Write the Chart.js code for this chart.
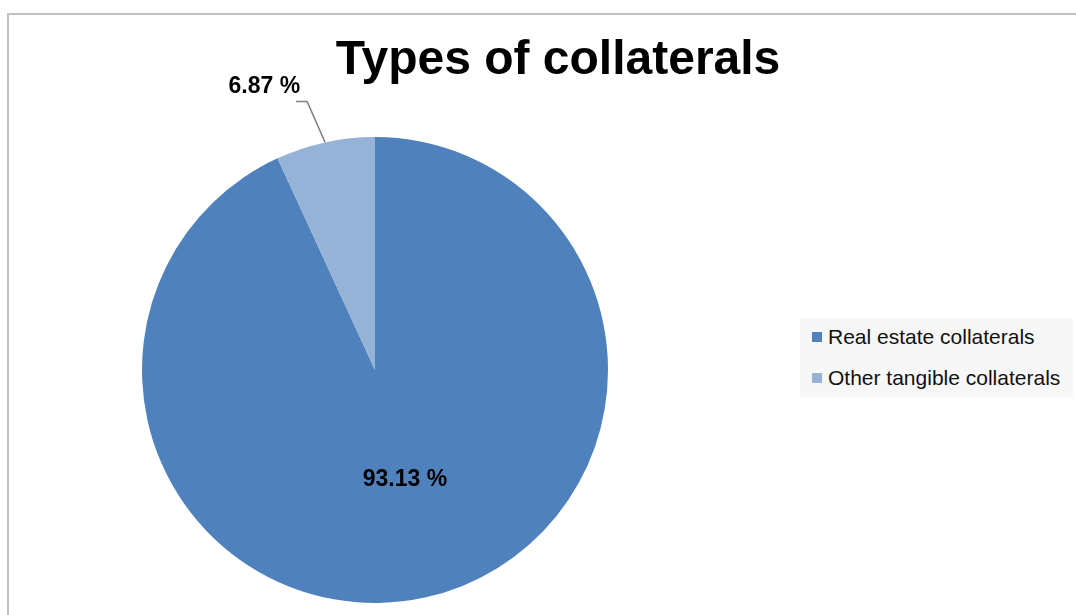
<!DOCTYPE html>
<html>
<head>
<meta charset="utf-8">
<script src="https://cdn.jsdelivr.net/npm/chart.js@4"></script>
<style>
  body { margin: 0; background: #fff; font-family: "Liberation Sans", Arial, sans-serif; }
  #wrap { position: relative; width: 1076px; height: 615px; overflow: hidden; }
  #frame { position: absolute; left: 7px; top: 13px; width: 1080px; height: 620px; border: 2px solid #c0c0c0; box-sizing: border-box; }
  #title { position: absolute; left: 0; width: 1116px; top: 30px; text-align: center; font-weight: bold; font-size: 48px; color: #000; }
  #legend { position: absolute; left: 800px; top: 318px; width: 273px; height: 79px; background: #f7f7f7; }
  .item { position: absolute; left: 12px; font-size: 21px; color: #111; white-space: nowrap; }
  .box { display: inline-block; width: 10px; height: 10px; margin-right: 6px; vertical-align: 2px; }
  canvas { position: absolute; left: 0; top: 0; }
</style>
</head>
<body>
<div id="wrap">
  <div id="frame"></div>
  <canvas id="pie" width="1076" height="615"></canvas>
  <div id="title">Types of collaterals</div>
  <div id="legend"></div>
</div>
<script>
const categorias = ['Real estate collaterals', 'Other tangible collaterals'];
const porcentajes = [93.13, 6.87];
const colores = ['#4F81BD', '#95B3D7'];

// leyenda a la derecha
const leyenda = document.getElementById('legend');
categorias.forEach(function(nombre, i) {
    const item = document.createElement('div');
    item.className = 'item';
    item.style.top = (7 + i * 41) + 'px';
    item.innerHTML = '<span class="box" style="background:' + colores[i] + '"></span>' + nombre;
    leyenda.appendChild(item);
});

// etiquetas de porcentaje; la pequeña va fuera con línea guía
const etiquetas = {
    id: 'etiquetas',
    afterDatasetsDraw(chart) {
        const ctx = chart.ctx;
        const arcos = chart.getDatasetMeta(0).data;
        ctx.save();
        ctx.font = 'bold 23px "Liberation Sans", Arial, sans-serif';
        ctx.fillStyle = '#000';
        ctx.textBaseline = 'middle';

        const p = arcos[0].tooltipPosition();
        ctx.textAlign = 'center';
        ctx.fillText(porcentajes[0].toFixed(2) + ' %', p.x + 5, p.y - 4);

        const a = arcos[1];
        const medio = (a.startAngle + a.endAngle) / 2;
        const bx = a.x + Math.cos(medio) * a.outerRadius;
        const by = a.y + Math.sin(medio) * a.outerRadius;
        ctx.strokeStyle = '#7f7f7f';
        ctx.lineWidth = 1.5;
        ctx.beginPath();
        ctx.moveTo(bx, by);
        ctx.lineTo(bx - 18, by - 41);
        ctx.lineTo(bx - 29, by - 41);
        ctx.stroke();
        ctx.textAlign = 'right';
        ctx.fillText(porcentajes[1].toFixed(2) + ' %', bx - 25, by - 56);
        ctx.restore();
    }
};

new Chart(document.getElementById('pie').getContext('2d'), {
    type: 'pie',
    data: {
        labels: categorias,
        datasets: [{
            data: porcentajes,
            backgroundColor: colores,
            borderWidth: 0
        }]
    },
    options: {
        responsive: false,
        animation: false,
        layout: { padding: { left: 142, right: 468, top: 137, bottom: 12 } },
        plugins: {
            legend: { display: false },
            tooltip: { enabled: false }
        }
    },
    plugins: [etiquetas]
});
</script>
</body>
</html>
